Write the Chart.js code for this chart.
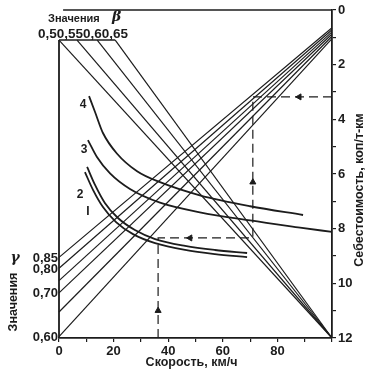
<!DOCTYPE html>
<html>
<head>
<meta charset="utf-8">
<script src="https://cdn.jsdelivr.net/npm/chart.js@4/dist/chart.umd.min.js"></script>
<style>
  html, body { margin: 0; padding: 0; background: #fff; }
  #wrap { width: 371px; height: 378px; }
</style>
</head>
<body>
<div id="wrap"><canvas id="nomo"></canvas></div>
<script>
const ink = "#1c1c1c";

// axes
const speedLabels = [0, 20, 40, 60, 80];
const costLabels = [0, 2, 4, 6, 8, 10, 12];

// beta lines (top-left fan, going down to the bottom-right corner)
const betaLabels = ["0,5", "0,55", "0,6", "0,65"];
const betaStartSpeed = [0, 6.6, 14, 20.6];
const betaStartCost = 1.1;
const betaEnd = [100, 12];

// gamma lines (left axis fan, going up to the top-right corner)
const gammaLabels = ["0,85", "0,80", "", "0,70", "", "0,60"];
const gammaStartCost = [9.05, 9.45, 9.9, 10.35, 11.05, 11.95];
const gammaEndCost = [0.65, 0.72, 0.8, 0.88, 0.96, 1.05];

// cost curves
const curveNames = ["I", "2", "3", "4"];
const curve1Speed = [9.5, 12.5, 16.1, 20.9, 27.1, 35.2, 46.2, 57.1, 68.9];
const curve1Cost = [5.93, 6.59, 7.21, 7.76, 8.2, 8.53, 8.78, 8.93, 9.04];
const curve2Speed = [10.3, 13.2, 16.8, 21.6, 27.8, 35.2, 46.2, 57.1, 68.9];
const curve2Cost = [5.74, 6.4, 7.06, 7.61, 8.05, 8.38, 8.63, 8.78, 8.89];
const curve3Speed = [10.6, 13.9, 18.7, 26, 37, 51.6, 70, 88.3, 100];
const curve3Cost = [4.76, 5.38, 5.98, 6.55, 7.05, 7.4, 7.7, 7.96, 8.12];
const curve4Speed = [11, 13.2, 16.1, 21.2, 28.6, 37, 51.6, 70, 89.4];
const curve4Cost = [3.15, 3.73, 4.5, 5.25, 5.9, 6.3, 6.78, 7.18, 7.5];
const curveLabelSpeed = [10.6, 7.7, 9.2, 8.8];
const curveLabelCost = [7.39, 6.77, 5.12, 3.48];

// worked example (dashed path and arrows)
const pathSpeed = [100, 71, 71, 36.3, 36.3];
const pathCost = [3.18, 3.18, 8.34, 8.34, 12];
const arrowSpeed = [88, 71, 48, 36.3];
const arrowCost = [3.18, 6.3, 8.34, 11];
const arrowTurn = [270, 0, 270, 0];

function pts(xs, ys) {
  return xs.map((x, i) => ({ x: x, y: ys[i] }));
}

function straight(a, b, w) {
  return {
    data: [a, b],
    borderColor: ink,
    borderWidth: w || 1.2,
    pointRadius: 0,
    tension: 0,
    clip: 4,
  };
}

const datasets = [];

// frame pieces that the axes do not draw
datasets.push(straight({ x: 1.5, y: 0 }, { x: 100, y: 0 }, 1.6));
datasets.push(straight({ x: 0, y: betaStartCost }, { x: 0, y: 12 }, 1.8));
datasets.push(straight({ x: 0, y: betaStartCost }, { x: betaStartSpeed[betaStartSpeed.length - 1], y: betaStartCost }, 1.6));

for (let i = 0; i < betaStartSpeed.length; i++) {
  datasets.push(straight({ x: betaStartSpeed[i], y: betaStartCost }, { x: betaEnd[0], y: betaEnd[1] }));
}
for (let i = 0; i < gammaStartCost.length; i++) {
  datasets.push(straight({ x: 0, y: gammaStartCost[i] }, { x: 100, y: gammaEndCost[i] }));
}

const curves = [
  [curve1Speed, curve1Cost],
  [curve2Speed, curve2Cost],
  [curve3Speed, curve3Cost],
  [curve4Speed, curve4Cost],
];
curves.forEach((c) => {
  datasets.push({
    data: pts(c[0], c[1]),
    borderColor: ink,
    borderWidth: 1.8,
    pointRadius: 0,
    cubicInterpolationMode: "monotone",
    clip: 4,
  });
});

datasets.push({
  data: pts(pathSpeed, pathCost),
  borderColor: ink,
  borderWidth: 1.2,
  borderDash: [9, 5],
  pointRadius: 0,
  tension: 0,
  clip: 4,
});
datasets.push({
  data: pts(arrowSpeed, arrowCost),
  showLine: false,
  pointStyle: "triangle",
  pointRadius: 3.5,
  rotation: arrowTurn,
  backgroundColor: ink,
  borderColor: ink,
  borderWidth: 1,
});

const textPlugin = {
  id: "nomoText",
  afterDraw(chart) {
    const ctx = chart.ctx;
    const xs = chart.scales.x;
    const ys = chart.scales.y;
    const area = chart.chartArea;
    ctx.save();
    ctx.fillStyle = ink;

    // beta header
    ctx.font = "bold 11px 'Liberation Sans', Arial, sans-serif";
    ctx.textAlign = "left";
    ctx.textBaseline = "middle";
    ctx.fillText("Значения", 48, 19);
    ctx.font = "italic bold 14px 'DejaVu Serif', serif";
    ctx.fillText("β", 112, 17);
    ctx.font = "bold 13.5px 'Liberation Sans', Arial, sans-serif";
    ctx.fillText(betaLabels.join(""), 38, 34);

    // gamma labels on the left
    ctx.font = "bold 13px 'Liberation Sans', Arial, sans-serif";
    ctx.textAlign = "right";
    for (let i = 0; i < gammaLabels.length; i++) {
      if (!gammaLabels[i]) continue;
      ctx.fillText(gammaLabels[i], area.left - 1, ys.getPixelForValue(gammaStartCost[i]) + 1);
    }

    // curve numbers
    ctx.font = "bold 12px 'Liberation Sans', Arial, sans-serif";
    ctx.textAlign = "center";
    for (let i = 0; i < curveNames.length; i++) {
      ctx.fillText(curveNames[i], xs.getPixelForValue(curveLabelSpeed[i]), ys.getPixelForValue(curveLabelCost[i]));
    }

    // axis titles
    ctx.font = "bold 12.5px 'Liberation Sans', Arial, sans-serif";
    ctx.fillText("Скорость, км/ч", (area.left + area.right) / 2 - 4, 363);

    ctx.save();
    ctx.translate(360, 190);
    ctx.rotate(-Math.PI / 2);
    ctx.fillText("Себестоимость, коп/т-км", 0, 0);
    ctx.restore();

    ctx.save();
    ctx.translate(14, 302);
    ctx.rotate(-Math.PI / 2);
    ctx.font = "bold 12.5px 'Liberation Sans', Arial, sans-serif";
    ctx.fillText("Значения", 0, 0);
    ctx.restore();
    ctx.font = "italic bold 14px 'DejaVu Serif', serif";
    ctx.fillText("γ", 15, 258);

    ctx.restore();
  },
};

new Chart(document.getElementById("nomo"), {
  type: "line",
  data: { datasets: datasets },
  options: {
    responsive: true,
    maintainAspectRatio: false,
    animation: false,
    layout: { padding: { left: 59, top: 10, right: 0, bottom: 0 } },
    plugins: { legend: { display: false }, tooltip: { enabled: false } },
    scales: {
      x: {
        type: "linear",
        position: "bottom",
        min: 0,
        max: 100,
        afterFit: (s) => { s.height = 40; },
        ticks: {
          stepSize: 10,
          autoSkip: false,
          maxRotation: 0,
          padding: 2,
          color: ink,
          font: { family: "'Liberation Sans', Arial, sans-serif", size: 13, weight: "bold" },
          callback: (v) => (speedLabels.includes(v) ? String(v) : ""),
        },
        grid: { drawOnChartArea: false, tickLength: 4, color: ink, lineWidth: 1.2 },
        border: { color: ink, width: 1.8 },
      },
      y: {
        type: "linear",
        position: "right",
        reverse: true,
        min: 0,
        max: 12,
        afterFit: (s) => { s.width = 39; },
        ticks: {
          stepSize: 1,
          autoSkip: false,
          padding: 2,
          color: ink,
          font: { family: "'Liberation Sans', Arial, sans-serif", size: 13, weight: "bold" },
          callback: (v) => (costLabels.includes(v) ? String(v) : ""),
        },
        grid: { drawOnChartArea: false, tickLength: 4, color: ink, lineWidth: 1.2 },
        border: { color: ink, width: 1.8 },
      },
    },
  },
  plugins: [textPlugin],
});
</script>
</body>
</html>
